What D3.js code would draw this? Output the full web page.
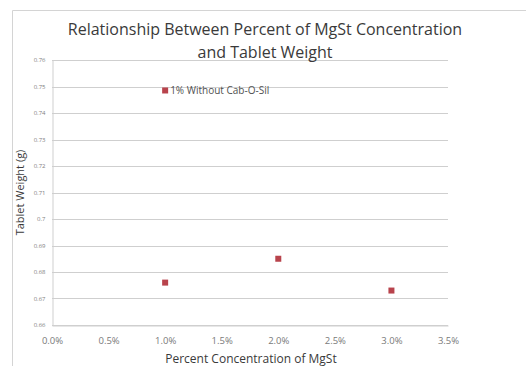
<!DOCTYPE html>
<html>
<head>
<meta charset="utf-8">
<script src="https://cdn.jsdelivr.net/npm/d3@7"></script>
<style>
  html, body { margin: 0; padding: 0; background: #fff; }
  svg { display: block; }
</style>
</head>
<body>
<svg id="chart" width="526" height="366"></svg>
<script>
// MgSt concentration (fraction) vs tablet weight (g)
const concentration = [0.01, 0.01, 0.02, 0.03];
const weight = [0.7485, 0.676, 0.685, 0.673];
const pointLabels = ["1% Without Cab-O-Sil", "", "", ""];
const yTicks = [0.66, 0.67, 0.68, 0.69, 0.70, 0.71, 0.72, 0.73, 0.74, 0.75, 0.76];
const yTickLabels = ["0.66", "0.67", "0.68", "0.69", "0.7", "0.71", "0.72", "0.73", "0.74", "0.75", "0.76"];
const xTicks = [0, 0.005, 0.01, 0.015, 0.02, 0.025, 0.03, 0.035];

const svg = d3.select("#chart");
const font = "Open Sans, Liberation Sans, sans-serif";

// outer chart frame
svg.append("path")
  .attr("d", "M12.5,366 V10.5 H526")
  .attr("fill", "none")
  .attr("stroke", "#d4d4d4")
  .attr("stroke-width", 1);

const x = d3.scaleLinear().domain([0, 0.035]).range([52, 448]);
const y = d3.scaleLinear().domain([0.66, 0.76]).range([325, 60]);

// horizontal gridlines
svg.append("g")
  .selectAll("line")
  .data(yTicks)
  .join("line")
  .attr("x1", x(0)).attr("x2", x(0.035))
  .attr("y1", d => Math.round(y(d)) + 0.5)
  .attr("y2", d => Math.round(y(d)) + 0.5)
  .attr("stroke", "#cfcfcf")
  .attr("stroke-width", 1);

// y axis
const yAxis = svg.append("g")
  .attr("transform", `translate(${x(0) + 0.5},0)`)
  .call(d3.axisLeft(y).tickValues(yTicks)
    .tickFormat((d, i) => yTickLabels[i]).tickSize(0).tickPadding(7));
yAxis.select(".domain").attr("stroke", "#cfcfcf");
yAxis.selectAll("text")
  .attr("fill", "#808080")
  .style("font-family", font)
  .style("font-size", "6px");

// x axis
const xAxis = svg.append("g")
  .attr("transform", `translate(0,${Math.round(y(0.66)) + 0.5})`)
  .call(d3.axisBottom(x).tickValues(xTicks)
    .tickFormat(d3.format(".1%")).tickSize(0).tickPadding(12));
xAxis.select(".domain").attr("stroke", "#cfcfcf");
xAxis.selectAll("text")
  .attr("fill", "#7a7a7a")
  .style("font-family", font)
  .style("font-size", "9.5px");

// data markers
svg.append("g")
  .selectAll("rect")
  .data(concentration.map((c, i) => ({ c, w: weight[i], label: pointLabels[i] })))
  .join("rect")
  .attr("x", d => x(d.c) - 3)
  .attr("y", d => y(d.w) - 3)
  .attr("width", 6)
  .attr("height", 6)
  .attr("fill", "#b8434c");

// data label
svg.append("g")
  .selectAll("text")
  .data(concentration.map((c, i) => ({ c, w: weight[i], label: pointLabels[i] })).filter(d => d.label))
  .join("text")
  .attr("x", d => x(d.c) + 5)
  .attr("y", d => y(d.w) + 4)
  .attr("fill", "#505050")
  .style("font-family", font)
  .style("font-size", "10px")
  .text(d => d.label);

// title
const title = svg.append("text")
  .attr("text-anchor", "middle")
  .attr("fill", "#3a3a3a")
  .style("font-family", font)
  .style("font-size", "16px");
title.append("tspan").attr("x", 265).attr("y", 35)
  .text("Relationship Between Percent of MgSt Concentration");
title.append("tspan").attr("x", 265).attr("y", 58)
  .text("and Tablet Weight");

// axis titles
svg.append("text")
  .attr("x", 251)
  .attr("y", 363)
  .attr("text-anchor", "middle")
  .attr("fill", "#3a3a3a")
  .style("font-family", font)
  .style("font-size", "12px")
  .text("Percent Concentration  of MgSt");

svg.append("text")
  .attr("transform", `translate(24,${(y(0.66) + y(0.76)) / 2}) rotate(-90)`)
  .attr("text-anchor", "middle")
  .attr("fill", "#3a3a3a")
  .style("font-family", font)
  .style("font-size", "11px")
  .text("Tablet Weight (g)");
</script>
</body>
</html>
